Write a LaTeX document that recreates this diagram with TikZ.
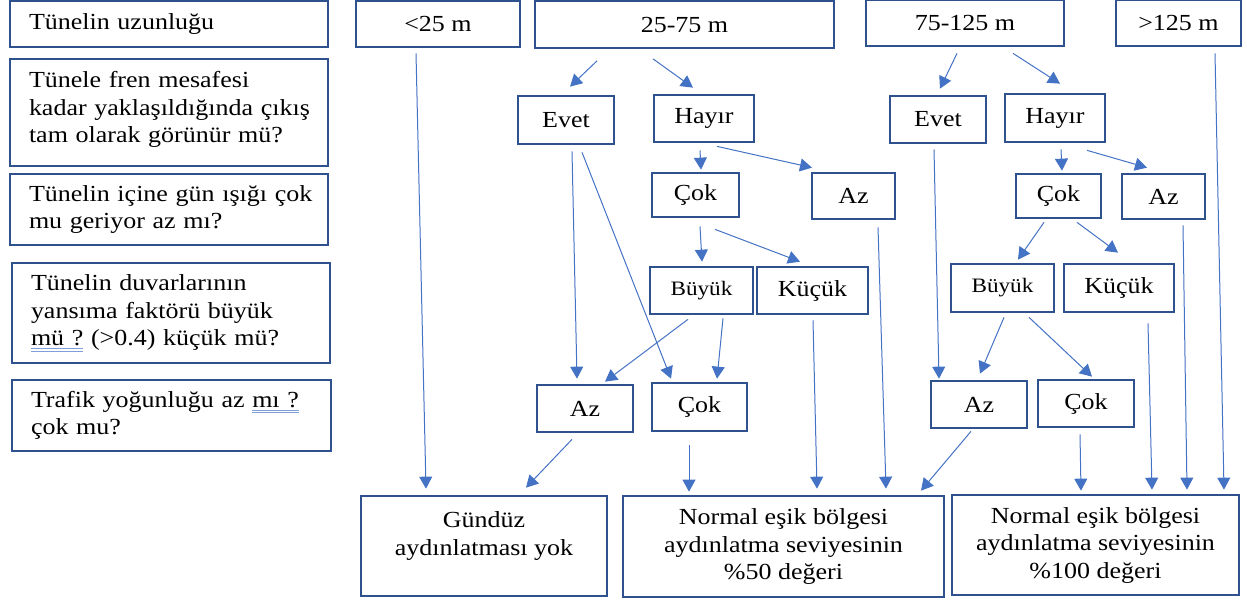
\documentclass[tikz,border=0pt]{standalone}
\usepackage{fontspec}
\setmainfont{Liberation Serif}[FakeStretch=1.13]
\usetikzlibrary{arrows.meta,calc}
\definecolor{boxblue}{HTML}{2F528F}
\definecolor{arrblue}{HTML}{4472C4}
\definecolor{ulblue}{HTML}{7F9FD9}
\newcommand\dblul[1]{\setbox0\hbox{#1}\rlap{\color{ulblue}\rule[-3pt]{\wd0}{0.7pt}}\rlap{\color{ulblue}\rule[-5.5pt]{\wd0}{0.7pt}}\box0\relax}
\newcommand\myconn[6]{\draw[arr] ($(#1.south)+(#2,#3)$) -- ($(#4.north)+(#5,#6)$);}
\begin{document}
\begin{tikzpicture}[x=1pt,y=-1pt,
  box/.style={draw=boxblue, line width=2.7pt, inner sep=0pt, align=center, font=\fontsize{23}{27.5}\selectfont},
  qbox/.style={box, align=left, inner xsep=19pt},
  smallfont/.style={font=\fontsize{20.5}{25}\selectfont},
  arr/.style={draw=arrblue, line width=1pt, -{Triangle[length=12pt,width=13pt]}}]
\useasboundingbox (0,0) rectangle (1247,600);

% question column
\node[qbox, minimum width=318pt, minimum height=46pt, text width=280pt] (q1) at (169,24) {Tünelin uzunluğu};
\node[qbox, minimum width=318pt, minimum height=107pt, text width=280pt] (q2) at (169,112.5) {\mbox{Tünele fren mesafesi}\\\mbox{kadar yaklaşıldığında çıkış}\\\mbox{tam olarak görünür mü?}\\[-17pt]\mbox{}};
\node[qbox, minimum width=318pt, minimum height=71pt, text width=280pt] (q3) at (169,209.5) {\mbox{Tünelin içine gün ışığı çok}\\\mbox{mu geriyor az mı?}};
\node[qbox, minimum width=318pt, minimum height=100pt, text width=280pt] (q4) at (171,313) {\mbox{Tünelin duvarlarının}\\\mbox{yansıma faktörü büyük}\\\mbox{\dblul{mü ?} (>0.4) küçük mü?}};
\node[qbox, minimum width=319pt, minimum height=71pt, text width=281pt] (q5) at (171.5,415.5) {\mbox{Trafik yoğunluğu az \dblul{mı ?}}\\\mbox{çok mu?}};

% top row
\node[box, minimum width=164pt, minimum height=46pt] (lt25) at (438,24) {<25 m};
\node[box, minimum width=299pt, minimum height=47pt] (m2575) at (684.5,24.5) {25-75 m};
\node[box, minimum width=198pt, minimum height=46pt] (m75125) at (965,23) {75-125 m};
\node[box, minimum width=125pt, minimum height=46pt] (gt125) at (1178.5,23) {>125 m};

% 25-75 branch
\node[box, minimum width=96pt, minimum height=48pt] (evetL) at (566,120) {Evet};
\node[box, minimum width=100pt, minimum height=47pt] (hayirL) at (704,118.5) {Hayır};
\node[box, minimum width=87pt, minimum height=44pt] (cokL) at (695.5,195) {Çok};
\node[box, minimum width=83pt, minimum height=46pt] (azL) at (853.5,196) {Az};
\node[box, smallfont, minimum width=103pt, minimum height=47pt] (buyukL) at (701.5,290.5) {Büyük};
\node[box, minimum width=111pt, minimum height=47pt] (kucukL) at (812.5,290.5) {Küçük};
\node[box, minimum width=96pt, minimum height=47pt] (az5L) at (585,408.5) {Az};
\node[box, minimum width=95pt, minimum height=48pt] (cok5L) at (699.5,407) {Çok};

% 75-125 branch
\node[box, minimum width=96pt, minimum height=47pt] (evetR) at (938,119.5) {Evet};
\node[box, minimum width=100pt, minimum height=48pt] (hayirR) at (1055,118) {Hayır};
\node[box, minimum width=85pt, minimum height=44pt] (cokR) at (1058.5,196) {Çok};
\node[box, minimum width=83pt, minimum height=45pt] (azR) at (1163.5,196.5) {Az};
\node[box, smallfont, minimum width=103pt, minimum height=48pt] (buyukR) at (1002.5,288) {Büyük};
\node[box, minimum width=110pt, minimum height=48pt] (kucukR) at (1119,288) {Küçük};
\node[box, minimum width=96pt, minimum height=47pt] (az5R) at (979,404.5) {Az};
\node[box, minimum width=96pt, minimum height=47pt] (cok5R) at (1086,403.5) {Çok};

% results
\node[box, minimum width=246pt, minimum height=100pt] (gunduz) at (484,546) {Gündüz\\aydınlatması yok\\[-3pt]\mbox{}};
\node[box, minimum width=321pt, minimum height=101pt] (n50) at (783.5,546.5) {Normal eşik bölgesi\\aydınlatma seviyesinin\\\%50 değeri};
\node[box, minimum width=287pt, minimum height=100pt] (n100) at (1095.5,545) {Normal eşik bölgesi\\aydınlatma seviyesinin\\\%100 değeri};

% connectors
\myconn{lt25}{-22}{5}{gunduz}{-58}{-6}
\myconn{m2575}{-87.5}{11.5}{evetL}{4}{-8}
\myconn{m2575}{-31.5}{9.5}{hayirL}{-11}{-6}
\myconn{hayirL}{-4}{7}{cokL}{5.5}{-2}
\myconn{hayirL}{13}{3}{azL}{-41.5}{-4}
\myconn{cokL}{4.5}{8}{buyukL}{0.5}{-4}
\myconn{cokL}{19.5}{11}{kucukL}{-12.5}{-4}
\myconn{evetL}{6}{6}{az5L}{-8}{-5}
\myconn{evetL}{16}{7}{cok5L}{-28.5}{-3}
\myconn{buyukL}{-13.5}{4}{az5L}{20}{-2}
\myconn{buyukL}{21.5}{3}{cok5L}{17.5}{-3}
\myconn{az5L}{-13}{6}{gunduz}{42}{-7}
\myconn{cok5L}{-10.5}{13}{n50}{-94.5}{-3}
\myconn{kucukL}{0.5}{5}{n50}{33.5}{-6}
\myconn{azL}{24.5}{7}{n50}{102.5}{-6}
\myconn{az5R}{-8}{2}{n50}{137.5}{-4}
\myconn{m75125}{-8}{6}{evetR}{2}{-6}
\myconn{m75125}{48}{6}{hayirR}{5}{-9}
\myconn{hayirR}{6}{6}{cokR}{3.5}{-2}
\myconn{hayirR}{32}{7}{azR}{-16.5}{-5}
\myconn{cokR}{-14.5}{3}{buyukR}{15.5}{-3}
\myconn{cokR}{18.5}{3}{kucukR}{-1}{-10}
\myconn{evetR}{-4}{5}{az5R}{-40}{-1}
\myconn{buyukR}{1.5}{4}{az5R}{1}{-6}
\myconn{buyukR}{26.5}{4}{cok5R}{6}{-2}
\myconn{cok5R}{-6}{6}{n100}{-14.5}{-3}
\myconn{kucukR}{29}{10}{n100}{56.5}{-4}
\myconn{azR}{19.5}{5}{n100}{91.5}{-4}
\myconn{gt125}{36.5}{6}{n100}{128.5}{-4}
\end{tikzpicture}
\end{document}
